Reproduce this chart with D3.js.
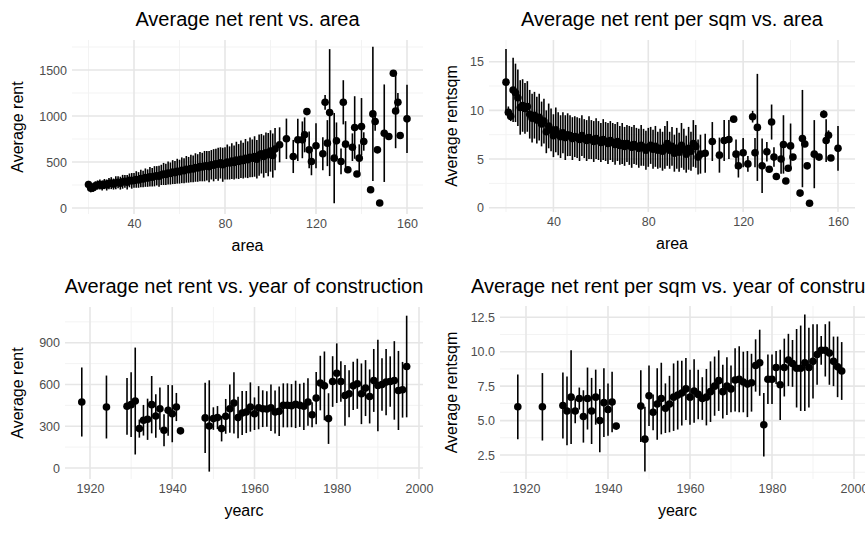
<!DOCTYPE html>
<html><head><meta charset="utf-8">
<script src="https://cdn.jsdelivr.net/npm/d3@7"></script>
<style>body{margin:0;background:#fff}svg{font-family:"Liberation Sans",Arial,sans-serif}</style>
</head><body><svg id="c" width="865" height="534"></svg>
<script>
// ---- area panels: contiguous part (area 20..102) ----
const areaA = [20,21,22,23,24,25,26,27,28,29,30,31,32,33,34,35,36,37,38,39,40,41,42,43,44,45,46,47,48,49,
  50,51,52,53,54,55,56,57,58,59,60,61,62,63,64,65,66,67,68,69,70,71,72,73,74,75,76,77,78,79,
  80,81,82,83,84,85,86,87,88,89,90,91,92,93,94,95,96,97,98,99,100,101,102];
const rentA = [255,215,220,240,250,255,245,260,250,265,270,260,275,280,270,285,290,280,300,295,
  300,310,305,320,315,330,325,340,335,345,350,345,360,370,365,380,375,390,385,400,
  395,410,405,420,415,430,425,440,435,450,445,455,460,450,470,465,480,475,490,470,
  485,500,490,510,495,520,505,530,515,540,525,550,540,560,530,575,590,560,600,580,620,570,640];
const rentSdA = [40,45,45,50,50,55,55,55,60,60,65,60,70,65,70,75,70,80,75,85,
  80,90,85,95,90,100,95,105,100,110,105,115,110,120,115,125,120,130,125,135,
  130,140,135,145,140,150,145,155,150,160,155,165,160,170,160,175,165,180,170,185,
  175,190,180,195,185,200,190,205,195,210,200,215,205,220,210,225,215,230,220,235,225,240,230];
const sqmA = [12.9,9.8,9.4,12.1,11.8,11.3,10.3,10.5,10.2,10.4,9.6,9.2,9.5,9.0,9.3,8.6,8.9,7.8,8.4,8.0,
  7.4,8.0,7.6,7.3,7.7,7.2,7.5,7.4,7.1,7.3,7.2,7.0,7.4,7.1,6.9,7.2,7.0,6.8,7.1,6.9,
  6.7,7.0,6.8,6.6,6.9,6.7,6.5,6.8,6.4,6.6,6.3,6.6,6.4,6.2,6.5,6.3,6.1,6.4,6.2,5.9,
  6.2,6.4,6.0,6.3,5.9,6.1,5.8,6.2,6.6,5.9,6.3,5.6,6.1,5.7,6.4,6.0,5.5,6.1,5.8,6.6,6.3,5.2,5.5];
const sqmSdA = [3.4,0.6,0.5,3.3,3.0,2.9,2.8,2.7,2.6,2.6,2.5,2.5,2.4,2.4,2.4,2.3,2.3,2.2,2.3,2.2,
  2.2,2.3,2.2,2.2,2.1,2.3,2.2,2.1,2.2,2.1,2.1,2.2,2.1,2.0,2.1,2.2,2.0,2.1,2.1,2.0,
  2.0,2.1,2.0,2.1,2.0,2.0,2.1,2.0,2.0,2.1,2.0,1.9,2.0,2.1,2.0,1.9,2.0,2.1,1.9,2.0,
  2.0,1.9,2.0,2.1,1.9,2.0,2.0,2.2,2.3,1.9,2.0,1.9,2.1,2.0,2.3,2.1,1.9,2.2,2.0,2.4,2.2,1.8,2.0];
// ---- area panels: sparse part ----
const areaS = [104,107,110,112,114,115,116,117,118,120,123,124,125,126,128,129,131,132,133,134,136,137,138,139,140,141,144,145,146,147,148,150,152,154,155,156,157,160];
const rentS = [687,752,560,741,741,795,1048,632,506,676,589,1149,705,1037,542,730,506,1149,694,416,661,875,369,542,885,723,199,1023,940,632,54,813,777,1464,1055,1149,788,969];
const rentSdS = [190,220,180,230,200,190,15,200,150,245,180,80,250,690,490,200,140,240,250,0,150,340,0,150,310,100,0,730,100,0,0,530,0,30,405,100,0,370];
const areaS2 = [104,107,110,112,114,116,117,118,120,122,124,125,126,128,130,131,132,133,134,136,137,138,139,140,141,144,145,146,147,148,150,152,154,155,156,157,160];
const sqmS = [5.6,6.8,5.4,6.9,7.0,9.1,5.5,4.3,5.65,4.5,9.35,5.65,8.25,4.3,5.75,3.95,8.8,5.2,3.2,5.0,6.5,2.75,4.05,6.35,5.2,1.5,7.1,6.55,4.3,0.45,5.5,5.2,9.6,6.9,7.45,5.1,6.1];
const sqmSdS = [2.0,2.0,1.8,2.1,2.0,0.3,1.5,1.2,1.5,0.8,0.6,1.5,5.5,2.8,1.0,0,1.8,1.0,0,1.5,3.0,0,0,2.3,0,0,5.0,0,0,0,3.5,0,0.4,2.2,0.5,0,2.3];
// ---- year panels ----
const years = [1918,1924,1929,1930,1931,1932,1933,1934,1935,1936,1937,1938,1939,1940,1941,1942,
  1948,1949,1950,1951,1952,1953,1954,1955,1956,1957,1958,1959,1960,1961,1962,1963,1964,1965,1966,1967,1968,1969,
  1970,1971,1972,1973,1974,1975,1976,1977,1978,1979,1980,1981,1982,1983,1984,1985,1986,1987,1988,1989,
  1990,1991,1992,1993,1994,1995,1996,1997];
const rentY = [474,438,443,455,481,283,343,350,455,374,426,271,414,390,438,267,
  360,302,355,362,283,371,426,467,362,395,402,438,390,433,426,424,433,402,407,450,450,448,
  457,450,443,474,383,502,610,590,355,621,681,621,521,533,590,605,533,574,514,629,
  593,600,617,621,629,557,562,729];
const rentSdY = [248,226,204,232,384,65,110,148,206,156,152,115,182,205,101,0,
  253,328,81,83,92,125,173,220,149,158,151,177,117,155,132,128,167,155,178,158,158,155,
  170,155,170,170,90,187,196,247,182,182,214,146,218,169,173,180,218,201,194,226,
  329,188,238,181,282,284,200,365];
const sqmY = [6.0,6.0,6.1,5.7,6.7,5.7,6.6,5.3,6.6,5.7,6.7,5.0,6.3,5.8,6.35,4.6,
  6.05,3.65,6.8,5.6,6.2,6.6,5.9,6.2,6.7,6.85,7.0,7.3,6.7,7.15,6.9,6.6,6.7,7.1,7.5,7.9,7.1,7.5,
  7.3,7.95,8.0,7.8,7.65,7.75,9.0,9.2,4.7,8.0,8.0,8.85,7.6,8.85,9.4,9.15,8.8,8.8,9.2,8.85,
  9.3,9.8,10.1,10.1,9.9,9.3,8.9,8.6];
const sqmSdY = [2.35,2.45,2.4,2.5,3.4,0.9,0.8,1.9,2.25,2.4,2.0,2.3,2.5,1.9,2.2,0,
  2.6,2.35,2.2,1.3,2.6,2.6,1.8,2.05,2.45,2.5,2.35,2.25,2.0,2.3,1.8,1.55,2.05,2.2,2.15,2.2,1.95,2.1,
  1.7,2.3,2.4,2.2,2.4,2.1,1.9,2.4,2.3,1.8,1.8,1.2,2.55,2.1,1.9,1.7,2.85,3.1,3.5,2.9,
  2.7,2.2,1.05,1.9,2.3,1.8,2.2,2.1];

const areaTicks = [40,80,120,160], yearTicks = [1920,1940,1960,1980,2000];
const svg = d3.select('#c');

function panel(o) {
  const x = d3.scaleLinear().domain(o.xd).range(o.xr);
  const y = d3.scaleLinear().domain(o.yd).range(o.yr);
  const g = svg.append('g');
  const [x0, x1] = o.box[0], [y0, y1] = o.box[1];
  const xv = x.invert(x0), xw = x.invert(x1), yv = y.invert(y1), yw = y.invert(y0);
  // minor grid
  const xs = o.xt[1] - o.xt[0], ys = o.yt[1] - o.yt[0];
  const xm = d3.range(o.xt[0] - xs * 2 + xs / 2, xw, xs).filter(v => v > xv);
  const ym = d3.range(o.yt[0] - ys * 2 + ys / 2, yw, ys).filter(v => v > yv);
  g.selectAll('.mx').data(xm).join('line').attr('x1', x).attr('x2', x).attr('y1', y0).attr('y2', y1)
    .attr('stroke', '#f3f3f3').attr('stroke-width', 1);
  g.selectAll('.my').data(ym).join('line').attr('y1', y).attr('y2', y).attr('x1', x0).attr('x2', x1)
    .attr('stroke', '#f3f3f3').attr('stroke-width', 1);
  const xa = d3.range(o.xt[0] - xs, xw, xs).filter(v => v > xv);
  g.selectAll('.gx').data(xa).join('line').attr('x1', x).attr('x2', x).attr('y1', y0).attr('y2', y1)
    .attr('stroke', '#e6e6e6').attr('stroke-width', 1.6);
  g.selectAll('.gy').data(o.yt).join('line').attr('y1', y).attr('y2', y).attr('x1', x0).attr('x2', x1)
    .attr('stroke', '#e6e6e6').attr('stroke-width', 1.6);
  // axes via d3
  const ax = g.append('g').attr('transform', `translate(0,${y1})`)
    .call(d3.axisBottom(x).tickValues(o.xt).tickSize(0).tickPadding(5).tickFormat(d3.format('d')));
  const ay = g.append('g').attr('transform', `translate(${x0},0)`)
    .call(d3.axisLeft(y).tickValues(o.yt).tickSize(0).tickPadding(5).tickFormat(o.yf || d3.format('d')));
  [ax, ay].forEach(a => { a.select('.domain').remove(); a.selectAll('text').attr('fill', '#4d4d4d').style('font-size', '12.5px'); });
  // marks
  o.series.forEach(s => {
    const d = s.x.map((v, i) => ({ x: v, m: s.m[i], sd: s.sd[i] }));
    g.append('g').selectAll('line').data(d.filter(p => p.sd > 0)).join('line')
      .attr('x1', p => x(p.x)).attr('x2', p => x(p.x))
      .attr('y1', p => y(p.m - p.sd)).attr('y2', p => y(p.m + p.sd))
      .attr('stroke', '#000').attr('stroke-width', 1.6);
    g.append('g').selectAll('circle').data(d).join('circle')
      .attr('cx', p => x(p.x)).attr('cy', p => y(p.m)).attr('r', 3.8).attr('fill', '#000');
  });
  const t = svg.append('text').attr('y', o.ty).attr('font-size', '20px').attr('fill', '#000').text(o.title);
  if (o.tStart) t.attr('x', o.tStart); else t.attr('x', (x0 + x1) / 2).attr('text-anchor', 'middle');
  svg.append('text').attr('x', (x0 + Math.min(x1, 855)) / 2).attr('y', y1 + 37).attr('text-anchor', 'middle')
    .attr('font-size', '16px').text(o.xl);
  svg.append('text').attr('transform', `translate(${o.ylx},${(y0 + y1) / 2}) rotate(-90)`)
    .attr('text-anchor', 'middle').attr('font-size', '16px').text(o.yl);
}

panel({ xd: [20, 160], xr: [88.5, 407], yd: [0, 1500], yr: [208, 70], box: [[72, 423], [40, 214]],
  xt: areaTicks, yt: [0, 500, 1000, 1500], title: 'Average net rent vs. area', ty: 26, xl: 'area', yl: 'Average rent', ylx: 23,
  series: [{ x: areaA, m: rentA, sd: rentSdA }, { x: areaS, m: rentS, sd: rentSdS }] });
panel({ xd: [20, 160], xr: [506, 838], yd: [0, 15], yr: [207.7, 61.7], box: [[489, 855], [40, 212]],
  xt: areaTicks, yt: [0, 5, 10, 15], title: 'Average net rent per sqm vs. area', ty: 26, xl: 'area', yl: 'Average rentsqm', ylx: 457,
  series: [{ x: areaA, m: sqmA, sd: sqmSdA }, { x: areaS2, m: sqmS, sd: sqmSdS }] });
panel({ xd: [1920, 2000], xr: [90, 419], yd: [0, 900], yr: [468, 342.7], box: [[65, 423], [307, 479]],
  xt: yearTicks, yt: [0, 300, 600, 900], title: 'Average net rent vs. year of construction', ty: 293, xl: 'yearc', yl: 'Average rent', ylx: 23,
  series: [{ x: years, m: rentY, sd: rentSdY }] });
panel({ xd: [1920, 2000], xr: [526, 854], yd: [2.5, 12.5], yr: [455, 317.3], box: [[500, 865], [306, 479]],
  xt: yearTicks, yt: [2.5, 5, 7.5, 10, 12.5], yf: d3.format('.1f'), title: 'Average net rent per sqm vs. year of construction', ty: 293, tStart: 471,
  xl: 'yearc', yl: 'Average rentsqm', ylx: 457,
  series: [{ x: years, m: sqmY, sd: sqmSdY }] });
</script></body></html>
